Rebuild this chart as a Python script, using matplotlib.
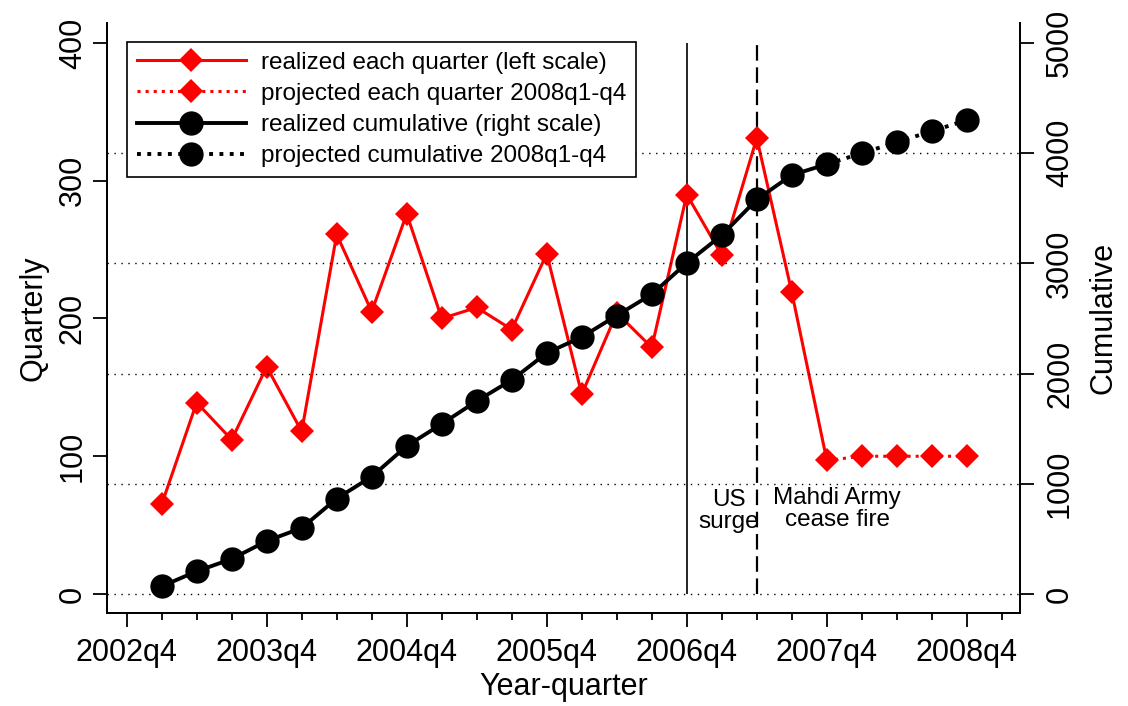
import matplotlib
matplotlib.use("Agg")
import matplotlib.pyplot as plt
from matplotlib.lines import Line2D

plt.rcParams['font.family'] = ['Liberation Sans', 'DejaVu Sans']

# ---- data ----
realized_quarters = ['2003q1', '2003q2', '2003q3', '2003q4', '2004q1', '2004q2', '2004q3', '2004q4',
                     '2005q1', '2005q2', '2005q3', '2005q4', '2006q1', '2006q2', '2006q3', '2006q4',
                     '2007q1', '2007q2', '2007q3', '2007q4']
projected_quarters = ['2008q1', '2008q2', '2008q3', '2008q4']
realized_each = [65, 139, 112, 165, 118, 261, 205, 276, 200, 208, 192, 247, 145, 204, 179, 290,
                 246, 331, 219, 97]
projected_each = [100, 100, 100, 100]
realized_cum = [70, 206, 318, 481, 599, 866, 1065, 1343, 1543, 1751, 1942, 2187, 2332, 2527, 2720, 3004,
                3256, 3580, 3802, 3900]
projected_cum = [4000, 4100, 4200, 4300]
x_tick_labels = ['2002q4', '2003q4', '2004q4', '2005q4', '2006q4', '2007q4', '2008q4']
all_quarters = ['2002q4'] + realized_quarters + projected_quarters + ['2009q1']
left_ticks = [0, 100, 200, 300, 400]
right_ticks = [0, 1000, 2000, 3000, 4000, 5000]
surge_q = '2006q4'
ceasefire_q = '2007q2'


def qnum(s):
    y, q = s.split('q')
    return int(y) + (int(q) - 1) / 4.0


xr = [qnum(s) for s in realized_quarters]
xp = [qnum(realized_quarters[-1])] + [qnum(s) for s in projected_quarters]

fig = plt.figure(figsize=(11.28, 7.06), dpi=100)
ax = fig.add_axes([0.0946, 0.1317, 0.8097, 0.8357])
ax2 = ax.twinx()

scale = 12.5
ylo, yhi = -13.8, 414.5
ax.set_ylim(ylo, yhi)
ax2.set_ylim(ylo * scale, yhi * scale)
xlo = qnum('2002q4') - 0.57 / 4
xhi = qnum('2002q4') + 25.52 / 4
ax.set_xlim(xlo, xhi)

# gridlines (right-scale)
for v in right_ticks[:-1]:
    ax2.axhline(v, color='black', lw=1.0, linestyle=(0, (1, 4)), zorder=1)

# vertical event lines
ax.vlines(qnum(surge_q), 0, 400, color='black', lw=1.2, zorder=2)
ax.vlines(qnum(ceasefire_q), 0, 400, color='black', lw=1.6, linestyle=(0, (7, 3)), zorder=2)

red = '#ff0000'
rlw = 2.2
blw = 2.8
ax.plot(xr, realized_each, color=red, lw=rlw, marker='D', ms=12.5, mew=0, zorder=3)
ax.plot(xp, [realized_each[-1]] + projected_each, color=red, lw=rlw, linestyle=':', marker=None, zorder=3)
ax.plot(xp[1:], projected_each, color=red, lw=0, marker='D', ms=12.5, mew=0, zorder=3)

ax2.plot(xr, realized_cum, color='black', lw=blw, marker='o', ms=17.5, mew=0, zorder=4)
ax2.plot(xp, [realized_cum[-1]] + projected_cum, color='black', lw=blw, linestyle=':', zorder=4)
ax2.plot(xp[1:], projected_cum, color='black', lw=0, marker='o', ms=17.5, mew=0, zorder=4)

ax2.set_zorder(ax.get_zorder() + 1)
ax2.patch.set_visible(False)

# annotations
ax.text(qnum('2007q1') + 0.05, 60, 'US\nsurge', ha='center', va='center', fontsize=17.5, linespacing=1.0)
ax.text(qnum('2007q4') + 0.075, 62, 'Mahdi Army\ncease fire', ha='center', va='center', fontsize=17.5,
        linespacing=1.0)

# axes styling
for a in (ax, ax2):
    a.spines['top'].set_visible(False)
    for s in a.spines.values():
        s.set_linewidth(1.3)

ax.set_yticks(left_ticks)
ax.set_yticklabels([str(v) for v in left_ticks], rotation=90, va='center')
ax2.set_yticks(right_ticks)
ax2.set_yticklabels([str(v) for v in right_ticks], rotation=90, va='center')
ax.set_xticks([qnum(s) for s in x_tick_labels])
ax.set_xticklabels(x_tick_labels)
ax.set_xticks([qnum(s) for s in all_quarters], minor=True)

ax.tick_params(axis='y', which='major', direction='out', length=10, width=1.3, labelsize=22, pad=3.5)
ax2.tick_params(axis='y', which='major', direction='out', length=10, width=1.3, labelsize=22, pad=8)
ax.tick_params(axis='x', which='major', direction='out', length=10, width=1.3, labelsize=22, pad=8)
ax.tick_params(axis='x', which='minor', direction='out', length=5, width=1.3)

ax.set_ylabel('Quarterly', fontsize=22, labelpad=7)
ax2.set_ylabel('Cumulative', fontsize=22, labelpad=10)
ax.set_xlabel('Year-quarter', fontsize=22, labelpad=3)

handles = [
    Line2D([], [], color=red, lw=rlw, marker='D', ms=12.5, mew=0),
    Line2D([], [], color=red, lw=rlw, linestyle=':', marker='D', ms=12.5, mew=0),
    Line2D([], [], color='black', lw=blw, marker='o', ms=17.5, mew=0),
    Line2D([], [], color='black', lw=blw, linestyle=':', marker='o', ms=17.5, mew=0),
]
labels = ['realized each quarter (left scale)', 'projected each quarter 2008q1-q4',
          'realized cumulative (right scale)', 'projected cumulative 2008q1-q4']
leg = ax2.legend(handles, labels, loc='upper left', bbox_to_anchor=(127 / 1128, 1 - 42 / 706),
                 bbox_transform=fig.transFigure, fontsize=17.5, handlelength=4.5, handletextpad=0.6,
                 labelspacing=0.38, borderpad=0.4, borderaxespad=0, fancybox=False, framealpha=1,
                 edgecolor='black', numpoints=1)
leg.get_frame().set_linewidth(1.2)
leg.set_zorder(10)

fig.savefig('out.png', dpi=100)
